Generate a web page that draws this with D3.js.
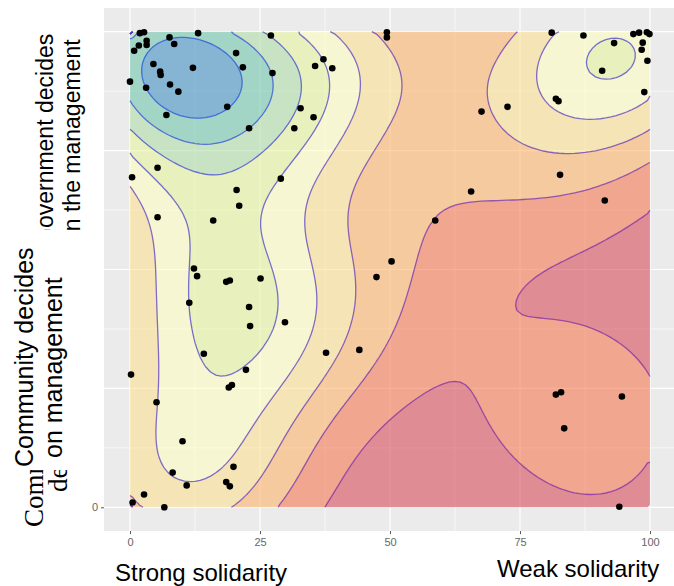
<!DOCTYPE html>
<html>
<head>
<meta charset="utf-8">
<script src="https://cdn.jsdelivr.net/npm/d3@7"></script>
<style>
  body { margin: 0; background: #fff; }
  svg { display: block; }
</style>
</head>
<body>
<div id="chart"></div>
<script>
// respondents: solidarity score (x) and who-decides score (y)
const solidarity = [
  1.9, 2.7, 7.6, 13.1, 8.5, 3.2, 3.2, 1.7, 0.8, 20.4, 21.7, 4.5, 12.1, 5.8, 5.9, 0, 3.1, 7.7, 9.3, 18.7,
  7.0, 27.1, 27.4, 32.8, 31.6, 22.9, 5.3, 0.4, 29.0, 20.5, 21.0, 5.3, 16.0, 12.3, 49.4, 49.4, 37.2, 35.6, 38.9, 35.3,
  67.6, 65.6, 58.7, 50.3, 72.6, 81.1, 87.2, 93.1, 96.8, 97.9, 99.4, 99.9, 98.6, 98.4, 99.5, 90.8, 81.9, 82.4, 98.9, 82.7,
  91.3, 12.9, 18.5, 19.2, 25.1, 11.4, 22.9, 23.1, 29.8, 14.2, 22.3, 19.0, 19.6, 0.2, 5.1, 10.1, 8.2, 19.9, 10.9, 18.5,
  19.2, 2.7, 0.5, 6.6, 47.4, 44.1, 37.7, 81.9, 82.9, 94.6, 83.5, 94.1
];
const governance = [
  99.7, 99.9, 98.8, 99.7, 97.4, 98.1, 97.2, 97.1, 96.0, 95.5, 92.5, 93.2, 92.4, 91.6, 90.9, 89.5, 88.2, 88.9, 87.4, 84.2,
  82.5, 99.2, 91.3, 83.9, 79.7, 79.7, 71.4, 69.4, 69.1, 66.7, 63.4, 61.0, 60.3, 50.2, 99.9, 98.8, 94.2, 92.8, 92.3, 82.0,
  83.2, 66.4, 60.3, 51.7, 84.2, 99.8, 99.2, 97.6, 99.5, 99.8, 99.9, 99.5, 97.7, 96.2, 93.9, 91.8, 85.9, 85.4, 87.3, 69.9,
  64.5, 48.6, 47.4, 47.7, 48.1, 43.0, 42.1, 38.1, 38.9, 32.3, 28.9, 25.2, 25.7, 27.9, 22.1, 13.9, 7.3, 8.5, 4.6, 5.3,
  4.4, 2.7, 1.0, 0.0, 48.4, 33.1, 32.5, 23.7, 24.2, 23.3, 16.6, 0.1
];

const xTicks = [0, 25, 50, 75, 100];
const yTicks = [0, 25, 50, 75, 100];
const xMinor = [12.5, 37.5, 62.5, 87.5];
const yMinor = [12.5, 37.5, 62.5, 87.5];

// RColorBrewer "Spectral", 9 classes, low density first
const bandColors = ["#D53E4F", "#F46D43", "#FDAE61", "#FEE08B", "#FFFFBF", "#E6F598", "#ABDDA4", "#66C2A5", "#3288BD"];

const xTitles = ["Strong solidarity", "Weak solidarity"];
const govLabel = ["Government decides", "on the management"];
const comLabel = ["Community decides", "on management"];
const serifLabel = ["Community", "decides"];

const W = 674, H = 586;
const svg = d3.select("#chart").append("svg").attr("width", W).attr("height", H);
svg.append("rect").attr("width", W).attr("height", H).attr("fill", "#fff");

const x = d3.scaleLinear().domain([0, 100]).range([130, 650]);
const y = d3.scaleLinear().domain([0, 100]).range([507.3, 31.7]);

const defs = svg.append("defs");
defs.append("clipPath").attr("id", "panel-clip")
  .append("rect")
  .attr("x", x(-5)).attr("y", y(105))
  .attr("width", x(105) - x(-5)).attr("height", y(-5) - y(105));

// panel background + grid
const panel = svg.append("g").attr("clip-path", "url(#panel-clip)");
panel.append("rect")
  .attr("x", x(-5)).attr("y", y(105))
  .attr("width", x(105) - x(-5)).attr("height", y(-5) - y(105))
  .attr("fill", "#EBEBEB");

panel.selectAll(".xminor").data(xMinor).join("line")
  .attr("x1", d => x(d)).attr("x2", d => x(d)).attr("y1", y(105)).attr("y2", y(-5))
  .attr("stroke", "#fff").attr("stroke-width", 0.6);
panel.selectAll(".yminor").data(yMinor).join("line")
  .attr("y1", d => y(d)).attr("y2", d => y(d)).attr("x1", x(-5)).attr("x2", x(105))
  .attr("stroke", "#fff").attr("stroke-width", 0.6);
panel.selectAll(".xmajor").data(xTicks).join("line")
  .attr("x1", d => x(d)).attr("x2", d => x(d)).attr("y1", y(105)).attr("y2", y(-5))
  .attr("stroke", "#fff").attr("stroke-width", 1.2);
panel.selectAll(".ymajor").data(yTicks).join("line")
  .attr("y1", d => y(d)).attr("y2", d => y(d)).attr("x1", x(-5)).attr("x2", x(105))
  .attr("stroke", "#fff").attr("stroke-width", 1.2);

// 2d kernel density, like MASS::kde2d with bandwidth.nrd
const adjust = 1.015;
function bandwidthNrd(v) {
  const s = d3.sort(v);
  const iqr = (d3.quantileSorted(s, 0.75) - d3.quantileSorted(s, 0.25)) / 1.34;
  return 4 * 1.06 * Math.min(d3.deviation(v), iqr) * Math.pow(v.length, -0.2);
}
const n = 100;
const hx = adjust * bandwidthNrd(solidarity) / 4;
const hy = adjust * bandwidthNrd(governance) / 4;
const N = solidarity.length;
const grid = new Float64Array(n * n);
for (let j = 0; j < n; j++) {
  const gy = (j + 0.5) * 100 / n;
  for (let i = 0; i < n; i++) {
    const gx = (i + 0.5) * 100 / n;
    let s = 0;
    for (let k = 0; k < N; k++) {
      const u = (gx - solidarity[k]) / hx, v = (gy - governance[k]) / hy;
      s += Math.exp(-0.5 * (u * u + v * v));
    }
    grid[j * n + i] = s / (N * 2 * Math.PI * hx * hy);
  }
}

// pretty breaks over the density range
const zmin = d3.min(grid), zmax = d3.max(grid);
const step = d3.tickStep(zmin, zmax, 10);
const breaks = d3.range(Math.floor(zmin / step) * step, Math.ceil(zmax / step) * step + step / 2, step);

const contours = d3.contours().size([n, n]).thresholds(breaks)(Array.from(grid));
const toPx = d3.geoTransform({
  point(gx, gy) { this.stream.point(x(gx * 100 / n), y(gy * 100 / n)); }
});
const geoPath = d3.geoPath(toPx);

const fills = svg.append("g");
for (let b = 0; b < contours.length - 1; b++) {
  fills.append("path")
    .attr("d", (geoPath(contours[b]) || "") + (geoPath(contours[b + 1]) || ""))
    .attr("fill-rule", "evenodd")
    .attr("fill", bandColors[Math.min(b, bandColors.length - 1)])
    .attr("fill-opacity", 0.55);
}

// isolines, without the parts that run along the grid border
const lineColor = d3.scaleLinear().domain([1, breaks.length - 2])
  .range(["#7a22a6", "#1d48e2"]).interpolate(d3.interpolateRgb);
const lineGen = d3.line().x(p => x(p[0] * 100 / n)).y(p => y(p[1] * 100 / n));
function onEdge(a, b) {
  return (a[0] === 0 && b[0] === 0) || (a[0] === n && b[0] === n) ||
    (a[1] === 0 && b[1] === 0) || (a[1] === n && b[1] === n);
}
const lines = svg.append("g");
for (let b = 1; b < contours.length; b++) {
  const segs = [];
  contours[b].coordinates.forEach(poly => poly.forEach(ring => {
    let cur = [ring[0]];
    for (let i = 1; i < ring.length; i++) {
      if (onEdge(ring[i - 1], ring[i])) {
        if (cur.length > 1) segs.push(cur);
        cur = [ring[i]];
      } else cur.push(ring[i]);
    }
    if (cur.length > 1) segs.push(cur);
  }));
  if (!segs.length) continue;
  lines.append("path")
    .attr("d", segs.map(s => lineGen(s)).join(""))
    .attr("fill", "none")
    .attr("stroke", lineColor(b))
    .attr("stroke-opacity", 0.7)
    .attr("stroke-width", 1.3);
}

// points
svg.append("g").selectAll("circle").data(solidarity).join("circle")
  .attr("cx", (d, i) => x(d)).attr("cy", (d, i) => y(governance[i]))
  .attr("r", 3.3).attr("fill", "#000");

// axes
const xAxis = svg.append("g").attr("transform", `translate(0,${y(-5)})`)
  .call(d3.axisBottom(x).tickValues(xTicks).tickSize(3).tickPadding(4));
const yAxis = svg.append("g").attr("transform", `translate(${x(-5)},0)`)
  .call(d3.axisLeft(y).tickValues(yTicks).tickSize(3).tickPadding(3));
[xAxis, yAxis].forEach(a => {
  a.select(".domain").remove();
  a.selectAll(".tick line").attr("stroke", "#555");
  a.selectAll("text").attr("fill", "#666").style("font-family", "Liberation Sans, Arial, sans-serif").style("font-size", "11px");
});

// pasted label boxes on the left
svg.append("rect").attr("x", 0).attr("y", 0).attr("width", x(-5)).attr("height", 470).attr("fill", "#fff");

defs.append("clipPath").attr("id", "gov-clip").append("rect").attr("x", 0).attr("y", 0).attr("width", 104).attr("height", 230);
const gov = svg.append("g").attr("clip-path", "url(#gov-clip)");
gov.selectAll("text").data(govLabel).join("text")
  .attr("transform", (d, i) => `translate(${[53, 80][i]},${[246, 244][i]}) rotate(-90)`)
  .style("font-family", "Liberation Sans, Arial, sans-serif").style("font-size", "23px")
  .attr("fill", "#000").text(d => d);

svg.append("g").selectAll("text").data(comLabel).join("text")
  .attr("transform", (d, i) => `translate(${[33, 62][i]},${[467, 458][i]}) rotate(-90)`)
  .style("font-family", "Liberation Sans, Arial, sans-serif").style("font-size", "25px")
  .attr("fill", "#000").text(d => d);

defs.append("clipPath").attr("id", "serif-clip").append("rect").attr("x", 0).attr("y", 470).attr("width", 80).attr("height", 70);
svg.append("g").attr("clip-path", "url(#serif-clip)").selectAll("text").data(serifLabel).join("text")
  .attr("transform", (d, i) => `translate(${[43, 67][i]},${[527, 492][i]}) rotate(-90)`)
  .style("font-family", "Liberation Serif, Times New Roman, serif").style("font-size", "27px")
  .attr("fill", "#000").text(d => d);

// pasted box under the axis
svg.append("rect").attr("x", 0).attr("y", 548).attr("width", W).attr("height", H - 548).attr("fill", "#fff");
svg.append("g").selectAll("text").data(xTitles).join("text")
  .attr("x", (d, i) => [115, 497][i]).attr("y", (d, i) => [581, 577][i])
  .style("font-family", "Liberation Sans, Arial, sans-serif").style("font-size", "24px")
  .attr("fill", "#000").text(d => d);
</script>
</body>
</html>
